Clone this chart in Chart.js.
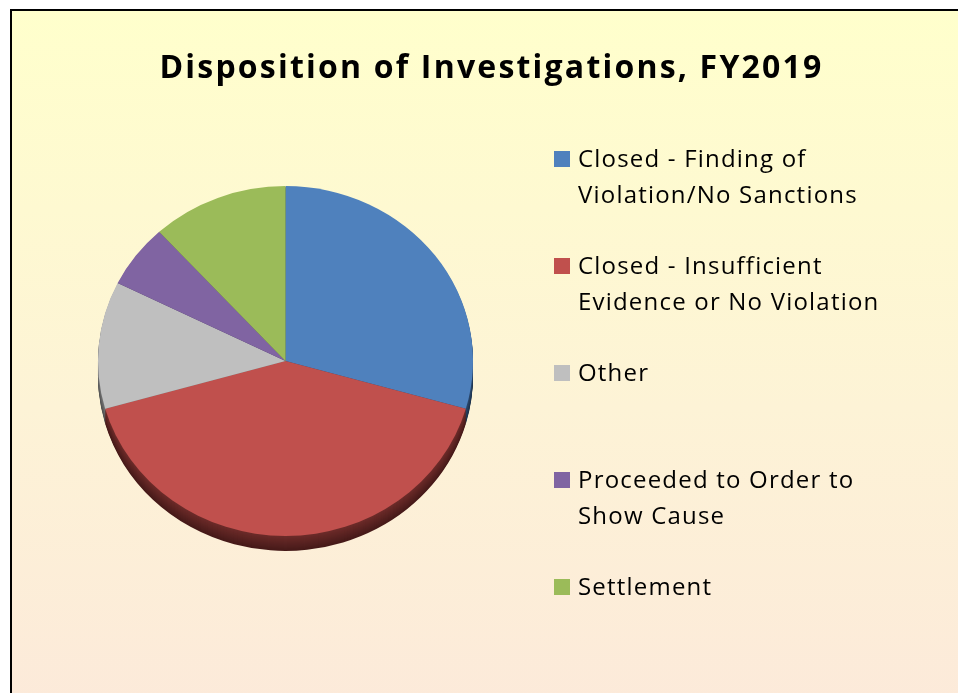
<!DOCTYPE html>
<html>
<head>
<meta charset="utf-8">
<script src="https://cdn.jsdelivr.net/npm/chart.js@4.4.1/dist/chart.umd.min.js"></script>
<style>
  html, body { margin: 0; padding: 0; width: 958px; height: 693px; overflow: hidden; background: #fff; }
  #frame {
    position: absolute; left: 10px; top: 9px; width: 980px; height: 720px;
    border-left: 2px solid #000; border-top: 2px solid #000;
    background: linear-gradient(to bottom, #ffffcc 0%, #fdf3d6 55%, #fce9da 100%);
  }
  #chartWrap { position: absolute; left: 0; top: 0; width: 958px; height: 693px; }
  #title {
    position: absolute; left: 0; top: 45.5px; width: 983px; text-align: center;
    font-family: "Open Sans", sans-serif; font-weight: bold; font-size: 32px;
    letter-spacing: 2.2px; line-height: 40px; color: #000; white-space: nowrap;
  }
  .item { position: absolute; left: 0; height: 80px; width: 958px; }
  .item .box { position: absolute; left: 554px; top: 11px; width: 16px; height: 16px; }
  .item .txt {
    position: absolute; left: 578px; top: 0; width: 312px;
    font-family: "Open Sans", sans-serif; font-size: 24px; letter-spacing: 1.2px;
    line-height: 36px; color: #000;
  }
</style>
</head>
<body>
<div id="frame"></div>
<div id="chartWrap"><canvas id="myChart" width="958" height="693"></canvas></div>
<div id="title">Disposition of Investigations, FY2019</div>
<div id="legend"></div>
<script>
const labels = [
    'Closed - Finding of Violation/No Sanctions',
    'Closed - Insufficient Evidence or No Violation',
    'Other',
    'Proceeded to Order to Show Cause',
    'Settlement'
];
const counts = [5, 7, 2, 1, 2];
const colors = ['#4f81bd', '#c0504d', '#bfbfbf', '#8064a2', '#9bbb59'];
const sideTop = ['#2c4a70', '#6e2c2a', '#767676', '#4a3a60', '#5a6d33'];
const sideBottom = ['#1c3048', '#461a19', '#4e4e4e', '#30253f', '#3b4721'];

const tilt = 0.933;
const depth = 15;

function mix(a, b, t) {
    const pa = parseInt(a.slice(1), 16), pb = parseInt(b.slice(1), 16);
    const ch = s => Math.round(((pa >> s) & 255) * (1 - t) + ((pb >> s) & 255) * t);
    return 'rgb(' + ch(16) + ',' + ch(8) + ',' + ch(0) + ')';
}

// squash the pie into an ellipse and give it a thick edge
const tiltPlugin = {
    id: 'tilt',
    beforeDatasetsDraw(chart) {
        const ctx = chart.ctx;
        const arcs = chart.getDatasetMeta(0).data;
        const cx = arcs[0].x, cy = arcs[0].y;
        ctx.save();
        ctx.translate(cx, cy);
        ctx.scale(1, tilt);
        ctx.translate(-cx, -cy);
        for (let d = depth; d > 0; d--) {
            arcs.forEach((arc, i) => {
                const p = arc.getProps(['x', 'y', 'startAngle', 'endAngle', 'outerRadius']);
                const oy = p.y + d / tilt;
                ctx.beginPath();
                ctx.moveTo(p.x, oy);
                ctx.arc(p.x, oy, p.outerRadius, p.startAngle, p.endAngle);
                ctx.closePath();
                ctx.fillStyle = mix(sideTop[i], sideBottom[i], d / depth);
                ctx.fill();
            });
        }
    },
    afterDatasetsDraw(chart) {
        chart.ctx.restore();
    }
};

const ctx = document.getElementById('myChart');

new Chart(ctx, {
    type: 'pie',
    data: {
        labels: labels,
        datasets: [{
            data: counts,
            backgroundColor: colors,
            borderWidth: 0
        }]
    },
    options: {
        responsive: false,
        maintainAspectRatio: false,
        animation: false,
        layout: {
            padding: { left: 98, right: 485, top: 173.5, bottom: 144.5 }
        },
        plugins: {
            legend: { display: false },
            tooltip: { enabled: false }
        }
    },
    plugins: [tiltPlugin]
});

// legend
const legend = document.getElementById('legend');
labels.forEach((lab, i) => {
    const item = document.createElement('div');
    item.className = 'item';
    item.style.top = (140 + 107 * i) + 'px';
    const box = document.createElement('div');
    box.className = 'box';
    box.style.background = colors[i];
    const txt = document.createElement('div');
    txt.className = 'txt';
    txt.textContent = lab;
    item.appendChild(box);
    item.appendChild(txt);
    legend.appendChild(item);
});
</script>
</body>
</html>
